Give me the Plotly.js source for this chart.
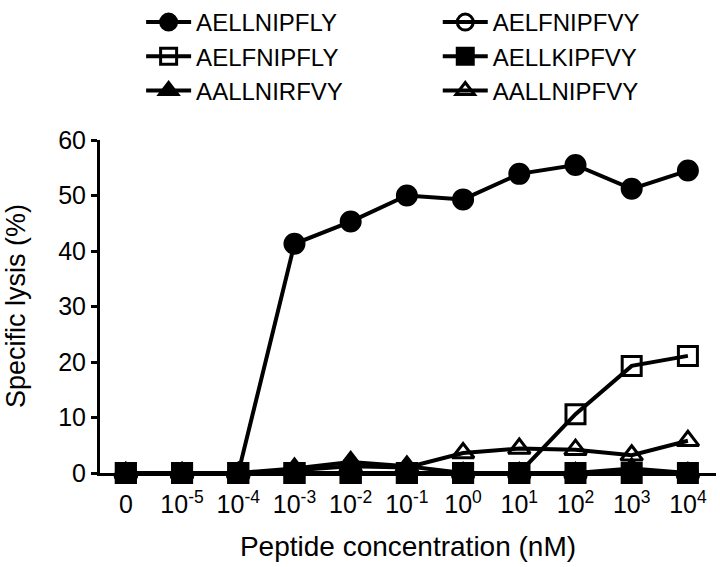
<!DOCTYPE html>
<html>
<head>
<meta charset="utf-8">
<script src="https://cdn.plot.ly/plotly-3.0.1.min.js"></script>
<style>html,body{margin:0;padding:0;background:#fff;}#chart{width:720px;height:567px;}</style>
</head>
<body>
<div id="chart"></div>
<script>
// Data
var concentrations = ['0', '10<sup>-5</sup>', '10<sup>-4</sup>', '10<sup>-3</sup>', '10<sup>-2</sup>', '10<sup>-1</sup>', '10<sup>0</sup>', '10<sup>1</sup>', '10<sup>2</sup>', '10<sup>3</sup>', '10<sup>4</sup>'];
var AELLNIPFLY = [0, 0, 0, 41.3, 45.3, 50.0, 49.3, 53.9, 55.5, 51.2, 54.5];
var AELFNIPFLY = [0, 0, 0, 0, 0, 0, 0, 0, 10.6, 19.3, 21.1];
var AALLNIRFVY = [0, 0, 0, 0.8, 2.0, 1.2, 0, 0, 0, 0.8, 0];
var AELFNIPFVY = [0, 0, 0, 0, 0, 0, 0, 0, 0, 0, 0];
var AELLKIPFVY = [0, 0, 0, 0, 0, 0, 0, 0, 0, 0, 0];
var AALLNIPFVY = [0, 0, 0, 0.5, 1.2, 1.0, 3.6, 4.4, 4.2, 3.2, 5.8];
var yTicks = [0, 10, 20, 30, 40, 50, 60];
var yTitle = 'Specific lysis (%)';
var xTitle = 'Peptide concentration (nM)';

var FONT = 'Liberation Sans, Arial, Helvetica, sans-serif';
function tr(name, y, symbol, legend, rank) {
  return {
    type: 'scatter', mode: 'lines+markers', name: name,
    x: concentrations, y: y, legend: legend, legendrank: rank,
    line: {color: '#000', width: 4},
    marker: {symbol: symbol, size: 19, color: '#000', line: {color: '#000', width: 3}},
    cliponaxis: false
  };
}
var data = [
  tr('AELFNIPFVY', AELFNIPFVY, 'circle-open', 'legend2', 1),
  tr('AALLNIPFVY', AALLNIPFVY, 'triangle-up-open', 'legend2', 3),
  tr('AELLKIPFVY', AELLKIPFVY, 'square', 'legend2', 2),
  tr('AALLNIRFVY', AALLNIRFVY, 'triangle-up', 'legend', 3),
  tr('AELFNIPFLY', AELFNIPFLY, 'square-open', 'legend', 2),
  tr('AELLNIPFLY', AELLNIPFLY, 'circle', 'legend', 1)
];

var legendCommon = {
  orientation: 'v', bgcolor: 'rgba(0,0,0,0)', borderwidth: 0,
  font: {family: FONT, size: 24, color: '#000'},
  xref: 'container', yref: 'container', xanchor: 'left', yanchor: 'top',
  itemwidth: 45
};
var layout = {
  width: 720, height: 567,
  margin: {l: 100, r: 4, t: 140, b: 94, autoexpand: false},
  paper_bgcolor: '#fff', plot_bgcolor: '#fff',
  font: {family: FONT, color: '#000'},
  showlegend: true,
  legend: Object.assign({}, legendCommon, {x: 0.196, y: 1.022}),
  legend2: Object.assign({}, legendCommon, {x: 0.608, y: 1.022}),
  xaxis: {
    type: 'category', range: [-0.46, 10.5],
    showgrid: false, zeroline: false, automargin: true,
    showline: true, linecolor: '#000', linewidth: 3,
    ticks: '', tickangle: 0, tickfont: {family: FONT, size: 25, color: '#000'},
    ticklabelstandoff: 7,
    title: {text: xTitle, font: {family: FONT, size: 28, color: '#000'}, standoff: 20}
  },
  yaxis: {
    range: [0, 60], tickvals: yTicks, automargin: true,
    showgrid: false, zeroline: false,
    showline: true, linecolor: '#000', linewidth: 3,
    ticks: 'outside', ticklen: 6, tickwidth: 3, tickcolor: '#000',
    tickfont: {family: FONT, size: 25, color: '#000'}
  },
  annotations: [{
    text: yTitle, textangle: -90, showarrow: false,
    xref: 'paper', yref: 'paper', x: -0.137, y: 0.5,
    xanchor: 'center', yanchor: 'middle',
    font: {family: FONT, size: 27, color: '#000'}
  }]
};
Plotly.newPlot('chart', data, layout, {displayModeBar: false, staticPlot: true});
</script>
</body>
</html>
